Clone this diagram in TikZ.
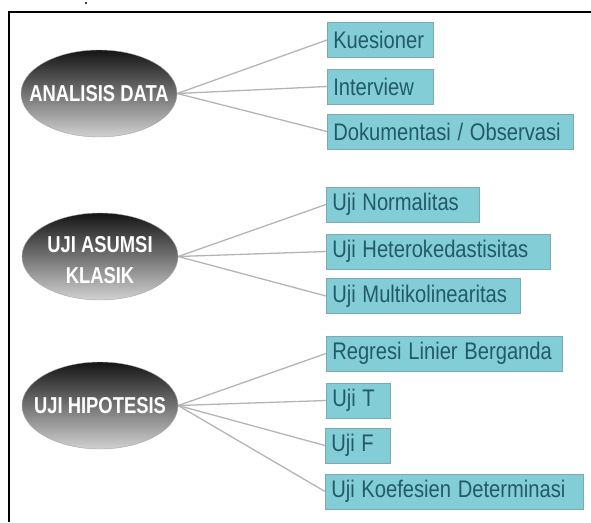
\documentclass[tikz,border=0pt]{standalone}
\usepackage{fontspec}
\usepackage{graphicx}
\setmainfont{Liberation Sans}
\usetikzlibrary{shapes.geometric}
\definecolor{boxfill}{HTML}{82CDD6}
\definecolor{boxtext}{HTML}{235A68}
\definecolor{boxline}{HTML}{7FA9B0}
\definecolor{conn}{HTML}{B4B4B4}
\newcommand{\narrowtxt}[1]{\scalebox{0.84}[1]{#1}}
\tikzset{
  blob/.style={ellipse, minimum width=156pt, minimum height=87pt, inner sep=0pt,
    top color=black!92, middle color=black!62, bottom color=black!18, draw=black!35, line width=0.4pt},
  blobtext/.style={text=white, font=\bfseries\fontsize{23}{31}\selectfont, xscale=0.8, align=center, inner sep=0pt},
  item/.style={anchor=west, fill=boxfill, draw=boxline, line width=0.5pt, minimum height=35pt,
    inner xsep=6pt, inner ysep=0pt, text=boxtext, font=\fontsize{24}{26}\selectfont, align=left},
  link/.style={draw=conn, line width=1.3pt},
  frameline/.style={line width=2pt, black}
}
\begin{document}
\begin{tikzpicture}[x=1pt, y=-1pt]
\useasboundingbox (0,0) rectangle (591,522);
% frame
\coordinate (fa) at (591,12);
\coordinate (fb) at (9,12);
\coordinate (fc) at (9,522);
\draw[frameline] (fa) -- (fb) -- (fc);
\fill (86,3) circle (1.1pt);
% ellipses
\node[blob] (e1) at (99,93.5) {};
\node[blobtext] (e1t) at (99,94) {ANALISIS DATA};
\node[blob] (e2) at (100,256.5) {};
\node[blobtext] (e2t) at (100,260) {UJI ASUMSI\\KLASIK};
\node[blob] (e3) at (100,405.5) {};
\node[blobtext] (e3t) at (100,406) {UJI HIPOTESIS};
% boxes
\node[item, text width=94pt] (k) at (327,40) {\narrowtxt{Kuesioner}};
\node[item, text width=94pt] (i) at (327,86.5) {\narrowtxt{Interview}};
\node[item, text width=234pt] (d) at (327,131.5) {\narrowtxt{Dokumentasi / Observasi}};
\node[item, text width=141pt] (n) at (326,204.5) {\narrowtxt{Uji Normalitas}};
\node[item, text width=212pt] (h) at (326,251.5) {\narrowtxt{Uji Heterokedastisitas}};
\node[item, text width=182pt] (m) at (326,296) {\narrowtxt{Uji Multikolinearitas}};
\node[item, text width=224pt] (r) at (326,353.5) {\narrowtxt{Regresi Linier Berganda}};
\node[item, text width=52pt] (t) at (326,400.5) {\narrowtxt{Uji T}};
\node[item, text width=53pt] (f) at (325,445.5) {\narrowtxt{Uji F}};
\node[item, text width=246pt] (c) at (325,491.5) {\narrowtxt{Uji Koefesien Determinasi}};
% links
\foreach \b in {k,i,d} \draw[link] (e1.east) -- (\b.west);
\foreach \b in {n,h,m} \draw[link] (e2.east) -- (\b.west);
\foreach \b in {r,t,f,c} \draw[link] (e3.east) -- (\b.west);
\end{tikzpicture}
\end{document}
